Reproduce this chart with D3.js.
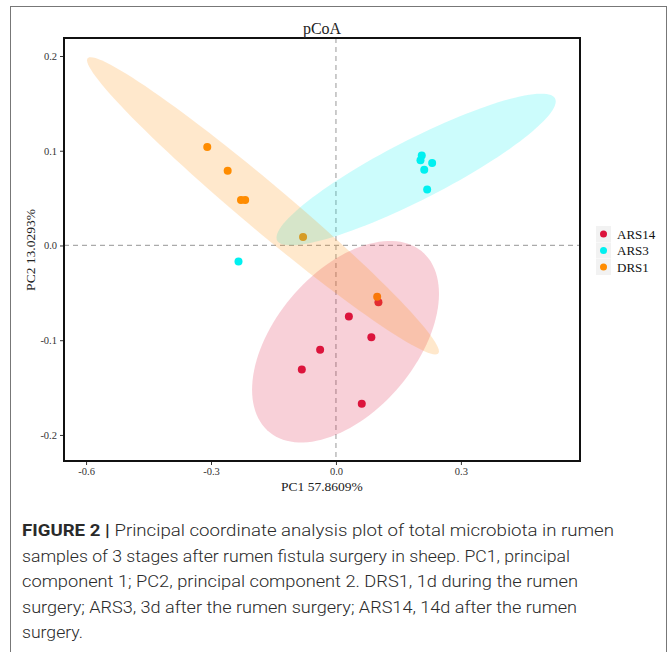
<!DOCTYPE html>
<html>
<head>
<meta charset="utf-8">
<script src="https://cdn.jsdelivr.net/npm/d3@7"></script>
<style>
  body { margin: 0; background: #fff; }
  svg { display: block; }
</style>
</head>
<body>
<svg id="container" width="670" height="652"></svg>
<script>
// groups, in legend order
const groups = ['ARS14', 'ARS3', 'DRS1']
const groupColors = ['#dc143c', '#00f0f0', '#ff8c00']

// sample scores
const pc1ARS14 = [0.102, 0.031, 0.085, -0.038, -0.082, 0.062]
const pc2ARS14 = [-0.060, -0.075, -0.097, -0.110, -0.131, -0.167]
const pc1ARS3 = [0.206, 0.203, 0.231, 0.212, 0.219, -0.234]
const pc2ARS3 = [0.095, 0.090, 0.087, 0.080, 0.059, -0.017]
const pc1DRS1 = [-0.309, -0.260, -0.228, -0.218, -0.079, 0.099]
const pc2DRS1 = [0.104, 0.079, 0.048, 0.048, 0.009, -0.054]

// confidence ellipses: centre and covariance (xx, xy, yy), in data units
const ellipseCenters = [[0.023, -0.1016], [0.1925, 0.0802], [-0.1752, 0.0419]]
const ellipseCov = [
  [0.05035, 0.01136, 0.01131],
  [0.1124, 0.02408, 0.006414],
  [0.1785, -0.06492, 0.02461],
]

const xTicks = [-0.6, -0.3, 0.0, 0.3]
const yTicks = [-0.2, -0.1, 0.0, 0.1, 0.2]

const captionLines = [
  ['FIGURE 2 | ', 'Principal coordinate analysis plot of total microbiota in rumen'],
  ['', 'samples of 3 stages after rumen fistula surgery in sheep. PC1, principal'],
  ['', 'component 1; PC2, principal component 2. DRS1, 1d during the rumen'],
  ['', 'surgery; ARS3, 3d after the rumen surgery; ARS14, 14d after the rumen'],
  ['', 'surgery.'],
]
const captionWidths = [592, 548, 556, 555, 61]

const svg = d3.select('#container')
const serif = '"Liberation Serif", "Times New Roman", serif'

// outer frame
svg.append('rect')
  .attr('x', 10.5).attr('y', 6.5)
  .attr('width', 656).attr('height', 700)
  .attr('fill', 'none').attr('stroke', '#777').attr('stroke-width', 1)

const x = d3.scaleLinear().domain([-0.653, 0.586]).range([64, 580])
const y = d3.scaleLinear().domain([-0.2275, 0.219]).range([461, 38])

const series = [
  d3.zip(pc1ARS14, pc2ARS14),
  d3.zip(pc1ARS3, pc2ARS3),
  d3.zip(pc1DRS1, pc2DRS1),
]

// zero reference lines
svg.append('line')
  .attr('x1', x(0)).attr('x2', x(0)).attr('y1', 38).attr('y2', 461)
  .attr('stroke', '#aaa').attr('stroke-width', 1.2).attr('stroke-dasharray', '5,4')
svg.append('line')
  .attr('x1', 64).attr('x2', 580).attr('y1', y(0)).attr('y2', y(0))
  .attr('stroke', '#aaa').attr('stroke-width', 1.2).attr('stroke-dasharray', '5,4')

// points
series.forEach((pts, i) => {
  svg.append('g')
    .selectAll('circle')
    .data(pts)
    .enter()
    .append('circle')
    .attr('cx', (d) => x(d[0]))
    .attr('cy', (d) => y(d[1]))
    .attr('r', 4)
    .attr('fill', groupColors[i])
})

// ellipses, drawn over the points
const ellipsePath = (c, cov) => {
  const l11 = Math.sqrt(cov[0])
  const l21 = cov[1] / l11
  const l22 = Math.sqrt(cov[2] - l21 * l21)
  const pts = d3.range(0, 361, 3).map((deg) => {
    const t = (deg * Math.PI) / 180
    return [c[0] + l11 * Math.cos(t), c[1] + l21 * Math.cos(t) + l22 * Math.sin(t)]
  })
  return d3.line().x((d) => x(d[0])).y((d) => y(d[1])).curve(d3.curveLinearClosed)(pts)
}

groups.forEach((g, i) => {
  svg.append('path')
    .attr('d', ellipsePath(ellipseCenters[i], ellipseCov[i]))
    .attr('fill', groupColors[i])
    .attr('fill-opacity', 0.2)
})

// axes
const xAxis = svg.append('g')
  .attr('transform', 'translate(0,461)')
  .call(d3.axisBottom(x).tickValues(xTicks).tickSize(4).tickFormat((d) => d.toFixed(1)))
const yAxis = svg.append('g')
  .attr('transform', 'translate(64,0)')
  .call(d3.axisLeft(y).tickValues(yTicks).tickSize(4).tickFormat((d) => d.toFixed(1)))

;[xAxis, yAxis].forEach((a) => {
  a.select('.domain').remove()
  a.selectAll('line').attr('stroke', '#333')
  a.selectAll('text')
    .attr('fill', '#333')
    .style('font-family', serif)
    .style('font-size', '10.5px')
})

// panel border
svg.append('rect')
  .attr('x', 64).attr('y', 38)
  .attr('width', 516).attr('height', 423)
  .attr('fill', 'none').attr('stroke', '#111').attr('stroke-width', 2)

// titles
svg.append('text')
  .attr('x', 322).attr('y', 34)
  .attr('text-anchor', 'middle')
  .style('font-family', serif).style('font-size', '16px')
  .attr('fill', '#222')
  .text('pCoA')

svg.append('text')
  .attr('x', 322).attr('y', 491)
  .attr('text-anchor', 'middle')
  .style('font-family', serif).style('font-size', '13.5px')
  .attr('fill', '#222')
  .text('PC1 57.8609%')

svg.append('text')
  .attr('transform', 'translate(35,250) rotate(-90)')
  .attr('text-anchor', 'middle')
  .style('font-family', serif).style('font-size', '13.5px')
  .attr('fill', '#222')
  .text('PC2 13.0293%')

// legend
const legend = svg.append('g').attr('transform', 'translate(596,226)')
groups.forEach((g, i) => {
  const row = legend.append('g').attr('transform', `translate(0,${i * 16.5})`)
  row.append('rect').attr('width', 15).attr('height', 16).attr('fill', '#f2f2f2')
  row.append('circle').attr('cx', 7.5).attr('cy', 8).attr('r', 3.5).attr('fill', groupColors[i])
  row.append('text')
    .attr('x', 21).attr('y', 12.5)
    .style('font-family', serif).style('font-size', '13px')
    .attr('fill', '#111')
    .text(g)
})

// caption
captionLines.forEach((line, i) => {
  const t = svg.append('text')
    .attr('x', 22).attr('y', 536 + i * 25.6)
    .attr('textLength', captionWidths[i])
    .attr('lengthAdjust', 'spacingAndGlyphs')
    .style('font-family', 'Roboto, "Noto Sans", sans-serif')
    .style('font-size', '17px')
    .attr('fill', '#2a2a2a')
  if (line[0]) t.append('tspan').style('font-weight', 'bold').text(line[0])
  t.append('tspan').style('font-weight', '300').text(line[1])
})
</script>
</body>
</html>
